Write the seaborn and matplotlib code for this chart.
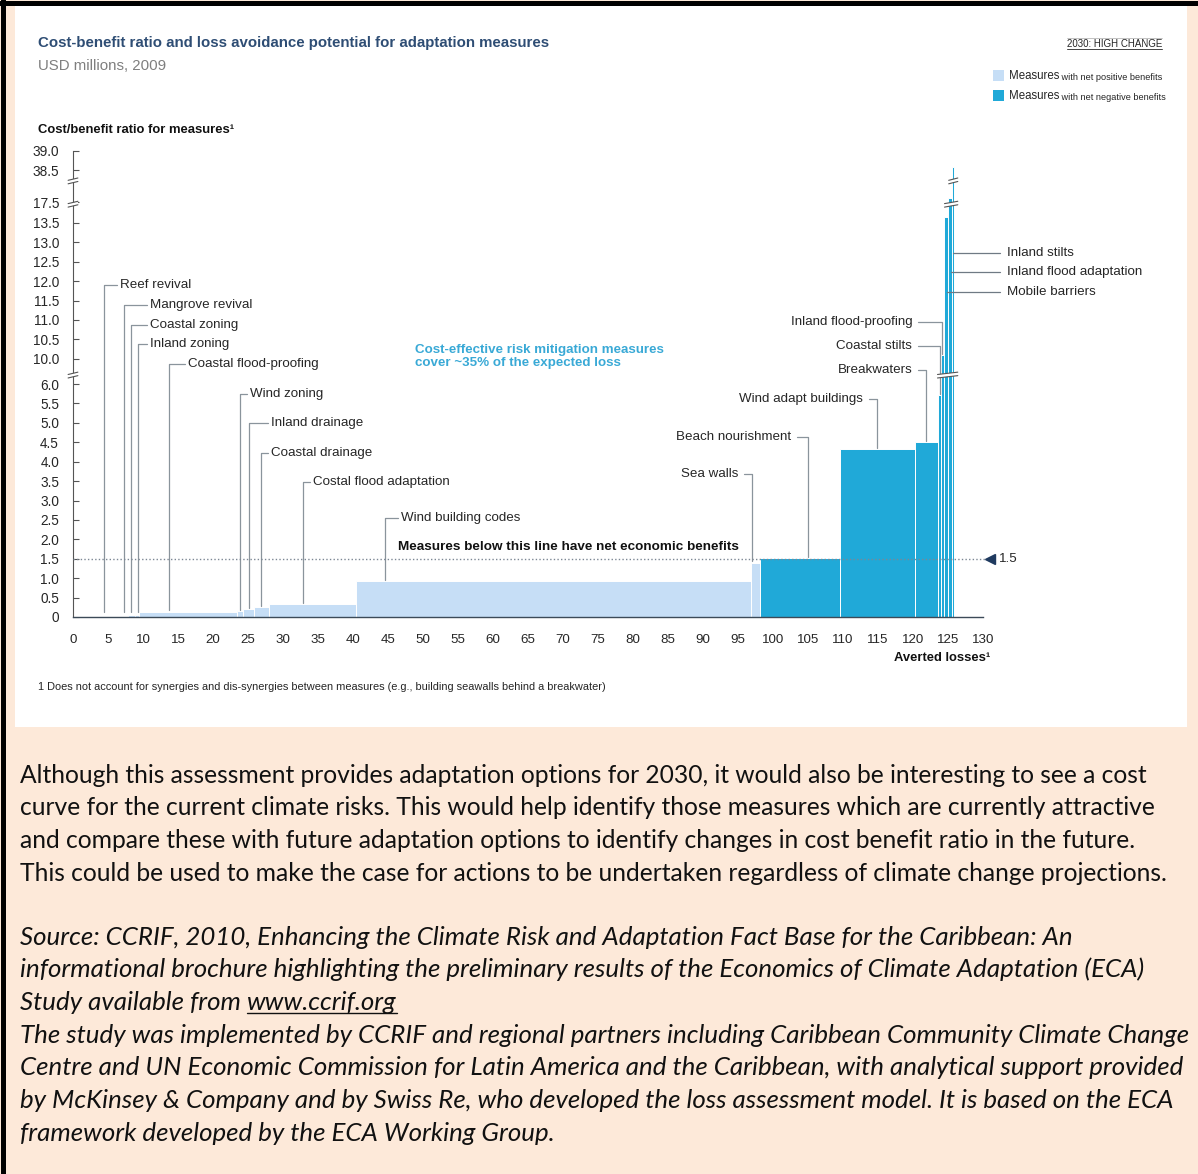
import numpy as np
import matplotlib.pyplot as plt
from matplotlib.patches import Rectangle, Polygon
from matplotlib.lines import Line2D
import seaborn as sns

sns.set_theme(style="white")
plt.rcParams['font.family'] = ['Liberation Sans', 'DejaVu Sans']

W, H = 1198, 1174

# ---- data ----
measures = ["Reef revival", "Mangrove revival", "Coastal zoning", "Inland zoning",
            "Coastal flood-proofing", "Wind zoning", "Inland drainage", "Coastal drainage",
            "Costal flood adaptation", "Wind building codes", "Sea walls", "Beach nourishment",
            "Wind adapt buildings", "Breakwaters", "Coastal stilts", "Inland flood-proofing",
            "Mobile barriers", "Inland flood adaptation", "Inland stilts"]
averted_losses = [6.8, 1.0, 1.0, 0.6, 14.0, 0.9, 1.6, 2.1, 12.4, 56.5,
                  1.2, 11.4, 10.8, 3.3, 0.4, 0.4, 0.6, 0.6, 0.3]
cb_ratio = [0.02, 0.03, 0.04, 0.05, 0.14, 0.16, 0.20, 0.26, 0.33, 0.93,
            1.40, 1.52, 4.33, 4.50, 5.72, 10.1, 14.6, 20.0, 38.6]
benefit = ["positive"] * 11 + ["negative"] * 8

xticks = list(range(0, 131, 5))
ytick_values = [0, 0.5, 1.0, 1.5, 2.0, 2.5, 3.0, 3.5, 4.0, 4.5, 5.0, 5.5, 6.0,
                10.0, 10.5, 11.0, 11.5, 12.0, 12.5, 13.0, 13.5, 17.5, 38.5, 39.0]
ytick_labels = ["0", "0.5", "1.0", "1.5", "2.0", "2.5", "3.0", "3.5", "4.0", "4.5",
                "5.0", "5.5", "6.0", "10.0", "10.5", "11.0", "11.5", "12.0", "12.5",
                "13.0", "13.5", "17.5", "38.5", "39.0"]
threshold = 1.5

# broken y axis: piecewise-linear map from value to drawing height
value_knots = [0, 6, 10, 13.5, 17.5, 38.5, 39]
disp_knots = [0, 6, 6.65, 10.15, 10.68, 11.5, 12.0]
breaks_disp = [6.2, 10.6, 11.2]


def to_disp(v):
    return np.interp(v, value_knots, disp_knots)


# label placement: text x, text y (drawing units), leader x, kind
label_layout = {
    "Reef revival": (6.7, 8.56, 4.4, "left"),
    "Mangrove revival": (11.0, 8.04, 7.3, "left"),
    "Coastal zoning": (11.0, 7.53, 8.3, "left"),
    "Inland zoning": (11.0, 7.04, 9.3, "left"),
    "Coastal flood-proofing": (16.4, 6.52, 13.7, "left"),
    "Wind zoning": (25.3, 5.75, 23.85, "left"),
    "Inland drainage": (28.3, 5.0, 25.1, "left"),
    "Coastal drainage": (28.3, 4.23, 26.85, "left"),
    "Costal flood adaptation": (34.3, 3.48, 32.85, "left"),
    "Wind building codes": (46.9, 2.55, 44.6, "left"),
    "Sea walls": (95.0, 3.69, 97.0, "right"),
    "Beach nourishment": (102.6, 4.64, 105.0, "right"),
    "Wind adapt buildings": (112.9, 5.62, 114.9, "right"),
    "Breakwaters": (119.9, 6.37, 121.9, "right"),
    "Coastal stilts": (119.9, 6.98, 123.8, "right"),
    "Inland flood-proofing": (119.9, 7.60, 124.2, "right"),
    "Mobile barriers": (133.4, 8.38, 124.8, "side"),
    "Inland flood adaptation": (133.4, 8.89, 125.4, "side"),
    "Inland stilts": (133.4, 9.38, 125.75, "side"),
}

LIGHT = "#c6def6"
DARK = "#20a9d8"
LEADER = "#8a949c"
TXT = "#262626"
LBL = 9.6

fig = plt.figure(figsize=(W / 100, H / 100), dpi=100)
fig.patch.set_facecolor("#fde9d9")

# white chart panel and page borders
fig.patches.append(Rectangle((15 / W, 1 - 727 / H), (1187 - 15) / W, (727 - 6) / H,
                             transform=fig.transFigure, facecolor="white", edgecolor="none", zorder=-5))
fig.lines.append(Line2D([2.5 / W, 2.5 / W], [0, 1], transform=fig.transFigure, color="black", lw=3.6))
fig.lines.append(Line2D([0, 1], [1 - 2.5 / H, 1 - 2.5 / H], transform=fig.transFigure, color="black", lw=3.6))

ax = fig.add_axes([73 / W, 1 - 617 / H, 910 / W, 466 / H])
ax.set_facecolor("none")

lefts = np.concatenate([[0], np.cumsum(averted_losses)[:-1]])
heights = to_disp(np.array(cb_ratio))
colors = [LIGHT if b == "positive" else DARK for b in benefit]
ax.bar(lefts, heights, width=averted_losses, align="edge", color=colors,
       edgecolor="white", linewidth=0.7, zorder=2)

ax.set_xlim(0, 130)
ax.set_ylim(0, 12.0)
ax.set_xticks(xticks)
ax.set_xticklabels([str(t) for t in xticks], fontsize=9.6, color=TXT)
ax.set_yticks(to_disp(np.array(ytick_values)))
ax.set_yticklabels(ytick_labels, fontsize=9.8, color=TXT)
ax.tick_params(axis="x", length=0, pad=12)
ax.tick_params(axis="y", direction="in", length=4, width=0.8, color="#555555", pad=10, left=True)
sns.despine(ax=ax)
ax.spines["left"].set_color("#555555")
ax.spines["left"].set_linewidth(0.8)
ax.spines["bottom"].set_color("#3c4a58")
ax.spines["bottom"].set_linewidth(1.0)

# threshold line
yt = to_disp(threshold)
ax.plot([0, 130.3], [yt, yt], ls=(0, (1, 1.6)), color="#7c8794", lw=1.0, zorder=4, clip_on=False)
ax.plot([131.0], [yt], marker="<", ms=6.5, color="#1f3a5f", clip_on=False, zorder=5)
ax.text(132.3, yt, "1.5", fontsize=LBL, va="center", ha="left", color=TXT)
ax.text(46.4, 1.80, "Measures below this line have net economic benefits", fontsize=9.7,
        fontweight="bold", color="#111111", va="center")
ax.text(48.9, 6.70, "Cost-effective risk mitigation measures\ncover ~35% of the expected loss",
        fontsize=9.6, fontweight="bold", color="#39a9d6", va="center", linespacing=1.1)

# leaders + labels
for name, r in zip(measures, cb_ratio):
    tx, ty, lx, kind = label_layout[name]
    top = max(to_disp(r), 0.1) + 0.03
    if kind == "left":
        ax.plot([lx, lx, tx - 0.45], [top, ty, ty], color=LEADER, lw=0.9, zorder=3)
        ax.text(tx, ty, name, fontsize=LBL, ha="left", va="center", color=TXT)
    elif kind == "right":
        ax.plot([tx + 0.8, lx, lx], [ty, ty, top], color=LEADER, lw=0.9, zorder=3)
        ax.text(tx, ty, name, fontsize=LBL, ha="right", va="center", color=TXT)
    else:
        ax.plot([lx, tx - 0.9], [ty, ty], color="#6f7a84", lw=0.9, zorder=3, clip_on=False)
        ax.text(tx, ty, name, fontsize=LBL, ha="left", va="center", color=TXT)


def draw_break(x0, x1, y, rise=0.06, gap=0.09):
    poly = Polygon([(x0, y - gap / 2), (x1, y - gap / 2 + rise), (x1, y + gap / 2 + rise), (x0, y + gap / 2)],
                   closed=True, facecolor="white", edgecolor="none", zorder=6, clip_on=False)
    ax.add_patch(poly)
    for s in (-1, 1):
        ax.plot([x0, x1], [y + s * gap / 2, y + s * gap / 2 + rise], color="#555555",
                lw=0.8, zorder=7, clip_on=False)


right_edges = lefts + np.array(averted_losses)
for yb in breaks_disp:
    draw_break(-0.7, 0.7, yb)
    over = heights > yb + 0.05
    if over.any():
        draw_break(lefts[over].min() - 0.5, right_edges[over].max() + 0.5, yb)

ax.set_xlabel("")
ax.set_ylabel("")

# titles and legend
fig.text(38 / W, 1 - 43 / H, "Cost-benefit ratio and loss avoidance potential for adaptation measures",
         fontsize=10.8, fontweight="bold", color="#2e4d74", va="center")
fig.text(38 / W, 1 - 66 / H, "USD millions, 2009", fontsize=10.8, color="#7f7f7f", va="center")
fig.text(38 / W, 1 - 130 / H, "Cost/benefit ratio for measures\u00b9", fontsize=9.4,
         fontweight="bold", color="#111111", va="center")
fig.text(990 / W, 1 - 658 / H, "Averted losses\u00b9", fontsize=9.4, fontweight="bold",
         color="#111111", va="center", ha="right")
fig.text(38 / W, 1 - 687 / H,
         "1 Does not account for synergies and dis-synergies between measures "
         "(e.g., building seawalls behind a breakwater)", fontsize=7.95, color=TXT, va="center")

fig.text(1162 / W, 1 - 44 / H, "2030: HIGH CHANGE", fontsize=7, color=TXT, va="center", ha="right")
fig.lines.append(Line2D([1067 / W, 1162 / W], [1 - 49 / H, 1 - 49 / H], transform=fig.transFigure,
                        color="#444444", lw=0.7))
fig.lines.append(Line2D([1067 / W, 1162 / W], [1 - 38 / H, 1 - 38 / H], transform=fig.transFigure,
                        color="#aaaaaa", lw=0.5))

for ypx, col, tail in [(75, LIGHT, " with net positive benefits"), (95, DARK, " with net negative benefits")]:
    fig.patches.append(Rectangle((993 / W, 1 - (ypx + 5.5) / H), 11 / W, 11 / H,
                                 transform=fig.transFigure, facecolor=col, edgecolor="none"))
    t1 = fig.text(1009 / W, 1 - (ypx + 4) / H, "Measures", fontsize=8.3, color=TXT, va="baseline")
    fig.add_artist(plt.Annotation(tail, xy=(1, 0), xycoords=t1, fontsize=6.6, color=TXT,
                                  va="bottom", ha="left"))

# text below the chart
body = ["Although this assessment provides adaptation options for 2030, it would also be interesting to see a cost",
        "curve for the current climate risks. This would help identify those measures which are currently attractive",
        "and compare these with future adaptation options to identify changes in cost benefit ratio in the future.",
        "This could be used to make the case for actions to be undertaken regardless of climate change projections."]
body_y = [776, 808, 841, 874]
source = ["Source: CCRIF, 2010, Enhancing the Climate Risk and Adaptation Fact Base for the Caribbean: An",
          "informational brochure highlighting the preliminary results of the Economics of Climate Adaptation (ECA)",
          "Study available from ",
          "The study was implemented by CCRIF and regional partners including Caribbean Community Climate Change",
          "Centre and UN Economic Commission for Latin America and the Caribbean, with analytical support provided",
          "by McKinsey & Company and by Swiss Re, who developed the loss assessment model. It is based on the ECA",
          "framework developed by the ECA Working Group."]
source_y = [938, 970, 1003, 1036, 1068, 1101, 1134]
BODY_FONT = ["Lato", "DejaVu Sans"]
BODY_SIZE = 17.7
ITALIC_SIZE = 18.6

for line, ypx in zip(body, body_y):
    fig.text(20 / W, 1 - (ypx + 7) / H, line, fontsize=BODY_SIZE, family=BODY_FONT,
             color="#111111", va="baseline")
link_anchor = None
for line, ypx in zip(source, source_y):
    t = fig.text(20 / W, 1 - (ypx + 7) / H, line, fontsize=ITALIC_SIZE, family=BODY_FONT,
                 style="italic", color="#111111", va="baseline")
    if line.startswith("Study"):
        link_anchor = t

fig.canvas.draw()
r = fig.canvas.get_renderer()
bb = link_anchor.get_window_extent(r)
link = fig.text(bb.x1 / W, 1 - (1003 + 7) / H, "www.ccrif.org", fontsize=ITALIC_SIZE, family=BODY_FONT,
                style="italic", color="#111111", va="baseline")
fig.canvas.draw()
lb = link.get_window_extent(r)
base = H - (1003 + 7) - 2.5
fig.lines.append(Line2D([lb.x0 / W, lb.x1 / W], [base / H, base / H], transform=fig.transFigure,
                        color="#111111", lw=1.0))

fig.savefig("out.png", dpi=100, facecolor=fig.get_facecolor())
